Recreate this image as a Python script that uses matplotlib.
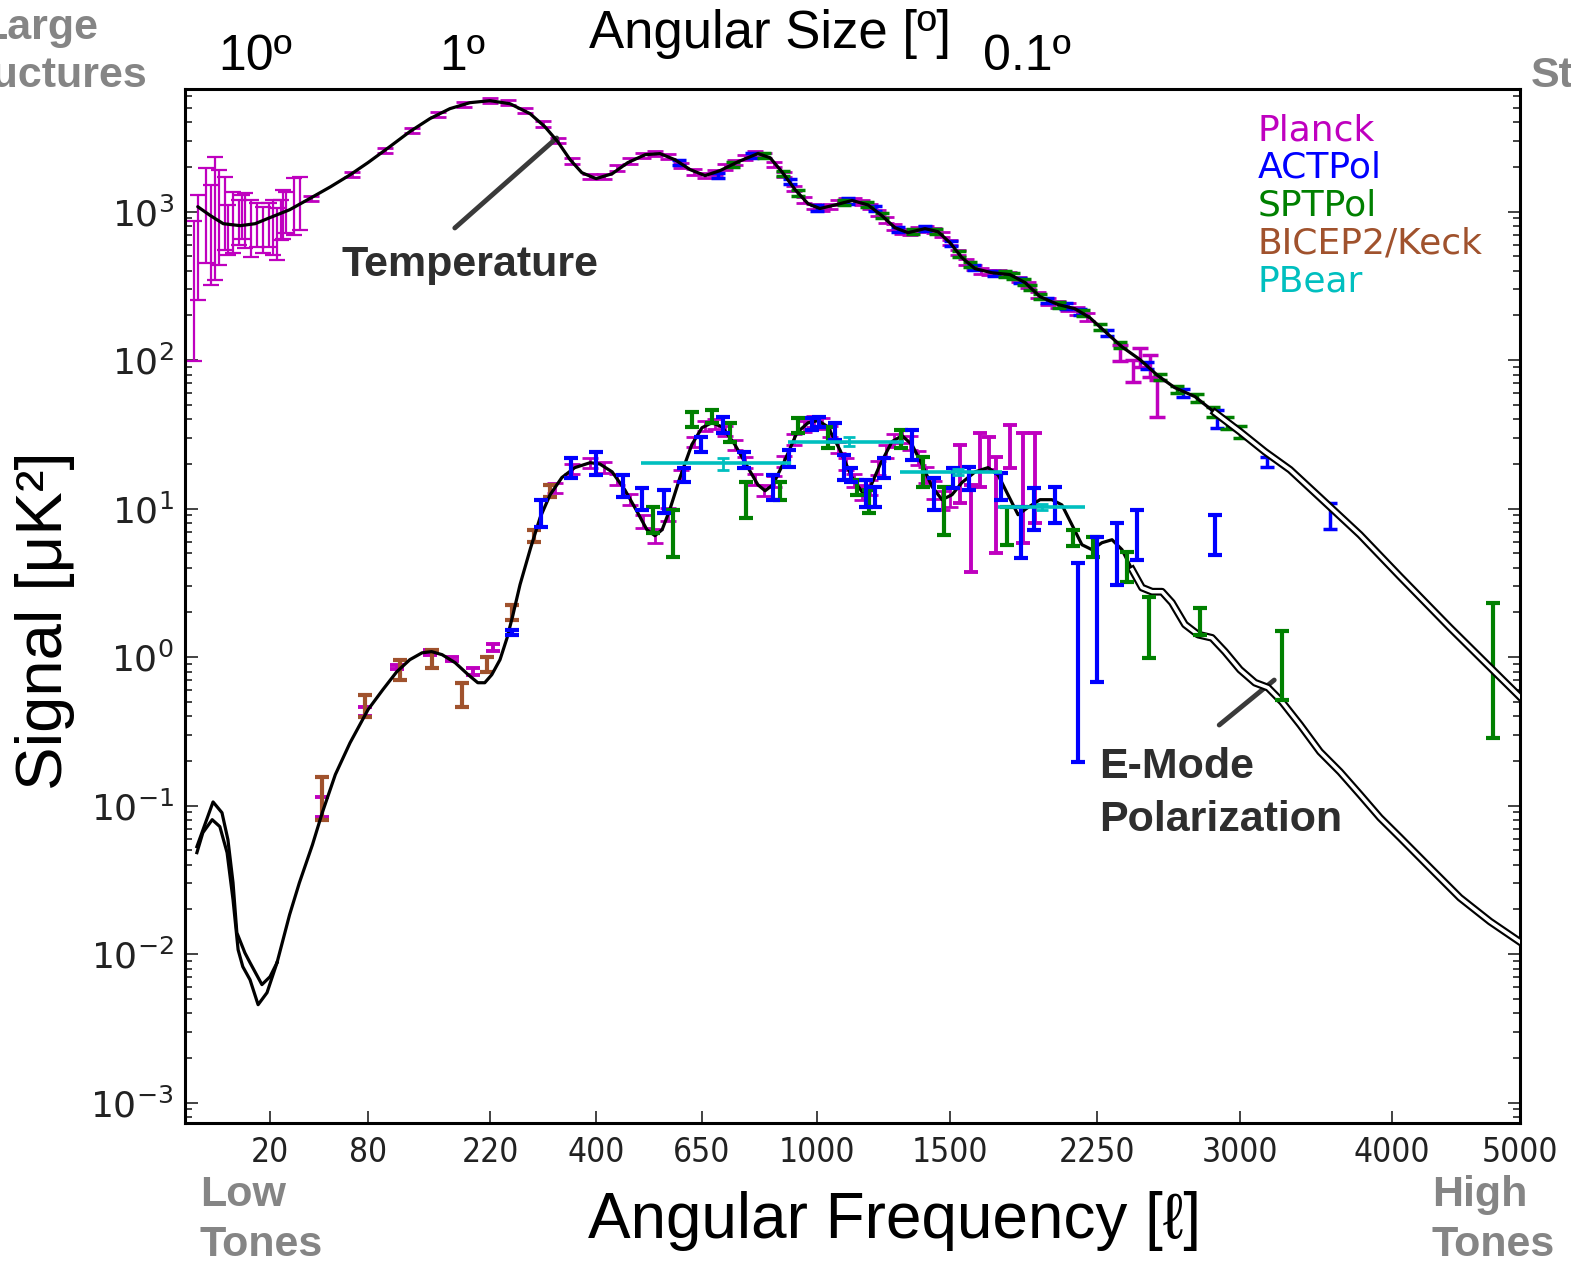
import numpy as np
import matplotlib
matplotlib.use("Agg")
import matplotlib.pyplot as plt
import matplotlib.transforms as mtransforms
from matplotlib.ticker import FixedLocator, FixedFormatter, NullLocator, LogLocator

# x axis: the multipole ticks are unevenly spaced in the original figure
ell_ticks = [20, 80, 220, 400, 650, 1000, 1500, 2250, 3000, 4000, 5000]
scale_ell = [0, 20, 80, 220, 400, 650, 1000, 1500, 2250, 3000, 4000, 5000]
scale_pos = [0, 85, 183, 305, 411, 517, 632, 765, 912, 1055, 1207, 1335]

# angular size labels along the top
ang_ell = [16.5, 188, 1890]
ang_labels = ['10º', '1º', '0.1º']

# legend
exp_names = ['Planck', 'ACTPol', 'SPTPol', 'BICEP2/Keck', 'PBear']
exp_colors = ['#bf00bf', '#0000ff', '#008000', '#a0522d', '#00bfbf']

# ---------------- theory curves ----------------
tt_ell = [3, 6, 9, 13, 16.5, 20, 32, 44, 57, 69, 80, 105, 128, 151, 174, 197,
          220, 254, 288, 313, 335, 356, 376, 400, 438, 475, 516, 551, 586, 622,
          659, 705, 760, 820, 857, 893, 933, 973, 1011, 1068, 1132, 1192, 1244,
          1293, 1342, 1406, 1455, 1500, 1561, 1628, 1714, 1806, 1883, 1959, 2051,
          2138, 2214, 2292, 2381, 2475, 2569, 2658, 2764, 2869, 3000, 3164, 3329,
          3526, 3789, 4063, 4453, 5000]
tt_val = [1080, 940, 830, 805, 830, 912, 1030, 1220, 1470, 1770, 2140, 2740, 3460,
          4230, 4940, 5420, 5590, 5330, 4570, 3740, 2960, 2240, 1830, 1670, 1800,
          2140, 2420, 2460, 2240, 1920, 1750, 1890, 2170, 2460, 2310, 1860, 1410,
          1130, 1050, 1110, 1190, 1110, 940, 780, 722, 769, 733, 618, 490, 413,
          388, 377, 333, 268, 237, 222, 193, 156, 123, 101, 78.7, 65.3, 56.8, 44.3,
          33.0, 24.2, 18.3, 11.9, 6.68, 3.49, 1.58, 0.54]

# EE: two models split at the lowest multipoles
ee_up_ell = [2.8, 6.6, 8.7, 10.1, 11.3, 12.2, 14.1, 15.3, 18.1, 20, 24.3]
ee_up_val = [0.053, 0.106, 0.0897, 0.059, 0.0303, 0.01396, 0.0102, 0.00877,
             0.00624, 0.00705, 0.00877]
ee_dn_ell = [2.8, 4.2, 6.4, 8.2, 9.9, 11.3, 12.5, 13.6, 15.3, 17.2, 19.3, 24.3]
ee_dn_val = [0.0483, 0.0658, 0.0805, 0.0723, 0.0483, 0.0233, 0.0107, 0.00824,
             0.00673, 0.00457, 0.00551, 0.00877]
ee_ell = [24.3, 32, 38, 46, 52, 60, 69, 80, 97, 113, 128, 142, 153, 165, 180, 195,
          206, 214, 223, 237, 249, 259, 271, 289, 305, 322, 342, 364, 390, 409,
          438, 468, 497, 520, 539, 556, 574, 598, 626, 650, 680, 711, 750, 790,
          820, 842, 866, 903, 939, 973, 1004, 1041, 1086, 1132, 1169, 1199, 1237,
          1282, 1320, 1357, 1395, 1432, 1470, 1510, 1561, 1628, 1694, 1745, 1796,
          1847, 1898, 1959, 2020, 2071, 2122, 2173, 2224, 2276, 2329, 2381, 2434,
          2486, 2539, 2591, 2643, 2711, 2780, 2853, 2921, 3000, 3099, 3184, 3276,
          3395, 3526, 3658, 3789, 3921, 4063, 4297, 4531, 4766, 5000]
ee_val = [0.00877, 0.01845, 0.0303, 0.0546, 0.0897, 0.162, 0.265, 0.443, 0.604,
          0.798, 0.962, 1.07, 1.09, 1.04, 0.918, 0.762, 0.673, 0.673, 0.762, 0.962,
          1.35, 1.93, 3.08, 5.45, 8.69, 12.4, 16.2, 18.9, 20.4, 20.0, 17.7, 13.4,
          9.55, 7.22, 6.58, 7.22, 9.84, 16.2, 27.0, 35.1, 37.9, 35.6, 27.0, 18.9,
          14.5, 13.2, 14.5, 21.4, 32.5, 37.9, 39.2, 35.6, 24.9, 16.2, 13.0, 13.8,
          19.8, 28.3, 31.0, 27.0, 19.8, 14.1, 11.5, 12.4, 15.0, 17.7, 18.9, 16.9,
          12.4, 9.11, 10.2, 11.5, 11.5, 10.6, 7.80, 5.72, 5.30, 5.90, 6.18, 5.30,
          3.88, 2.94, 2.76, 2.76, 2.33, 1.66, 1.42, 1.35, 1.09, 0.824, 0.673,
          0.624, 0.501, 0.351, 0.231, 0.169, 0.119, 0.083, 0.061, 0.0382, 0.0240,
          0.0166, 0.0121]

# ---------------- TT data ----------------
pl_tt_low_ell = [2, 3, 4.9, 6, 7, 8, 9.4, 10, 11.3, 12.7, 13.5, 14.1, 15.5, 16.9,
                 18.4, 19.8, 22, 24, 26.7, 28, 30, 34.8, 38.4]
pl_tt_low_hi = [860, 1300, 1980, 1520, 2340, 1920, 1720, 1110, 1360, 1200, 1300,
                1340, 1200, 1150, 1080, 1150, 1200, 1060, 1200, 1400, 1360, 1690, 1720]
pl_tt_low_lo = [98, 255, 454, 322, 348, 440, 555, 514, 530, 600, 650, 573, 498,
                580, 530, 580, 514, 475, 647, 650, 723, 700, 757]

pl_tt_ell = [45, 70, 100, 130, 160, 190, 220, 250, 280, 310, 335, 360, 390, 420,
             450, 480, 510, 540, 570, 600, 630, 660, 690, 720, 750, 780, 810, 840,
             870, 900, 930, 960, 990, 1020, 1050, 1080, 1110, 1140, 1170, 1200,
             1230, 1260, 1290, 1320, 1350, 1380, 1410, 1440, 1470, 1500, 1540,
             1580, 1620, 1660, 1700, 1750, 1800, 1850, 1900, 1950, 2000, 2050,
             2100, 2150, 2200]
pl_tt_val = [1230, 1790, 2600, 3530, 4520, 5300, 5650, 5400, 4800, 3900, 3000,
             2200, 1720, 1720, 1970, 2200, 2400, 2470, 2350, 2050, 1850, 1760, 1830,
             2000, 2140, 2330, 2450, 2380, 2080, 1780, 1440, 1200, 1080, 1060, 1090,
             1150, 1180, 1180, 1150, 1090, 980, 880, 790, 735, 725, 755, 770, 750,
             700, 620, 530, 460, 420, 400, 390, 385, 378, 350, 320, 275, 250, 237,
             228, 215, 197]
pl_tt_err = [50, 70, 100, 140, 180, 210, 220, 210, 190, 160, 120, 90, 70, 70, 80,
             90, 95, 100, 95, 80, 75, 70, 75, 80, 85, 95, 100, 95, 85, 70, 60, 50,
             45, 42, 45, 46, 48, 48, 46, 44, 40, 36, 32, 30, 30, 30, 32, 30, 28, 26,
             22, 20, 18, 17, 17, 17, 17, 16, 15, 14, 13, 13, 13, 13, 12]
pl_tt_hi_ell = [2370, 2440, 2476, 2528, 2565]
pl_tt_hi_hi = [127, 100, 121, 109, 74]
pl_tt_hi_lo = [98, 71.6, 90, 77, 41.7]

act_tt_ell = [596, 699, 802, 918, 1000, 1117, 1218, 1304, 1406, 1505, 1622, 1724,
              1857, 1995, 2092, 2163, 2302, 2512, 2701, 2879, 3178, 3592]
act_tt_val = [2150, 1750, 2400, 1600, 1060, 1180, 1050, 760, 770, 610, 420, 385,
              345, 252, 232, 212, 152, 92, 60, 40.5, 20.8, 9.1]
act_tt_err = [85, 70, 95, 65, 42, 47, 42, 30, 31, 25, 17, 15, 14, 10, 9.5, 9, 7, 5,
              3.5, 5.4, 1.6, 1.8]

spt_tt_ell = [744, 839, 897, 942, 1101, 1188, 1244, 1361, 1447, 1546, 1602, 1780,
              1821, 1877, 1908, 1959, 2056, 2179, 2266, 2371, 2580, 2670, 2774,
              2858, 2932, 3000]
spt_tt_val = [2090, 2400, 1810, 1340, 1160, 1120, 940, 735, 740, 520, 440, 380, 370,
              336, 310, 268, 236, 208, 168, 127, 77, 64, 56, 45, 38, 33]
spt_tt_err = [85, 95, 75, 55, 47, 45, 38, 30, 30, 21, 18, 16, 16, 14, 13, 11, 10, 9,
              7.5, 6, 4, 3.5, 3.5, 3.5, 3.5, 3.0]
spt_tt_far_ell = [4789]
spt_tt_far_hi = [2.33]
spt_tt_far_lo = [0.287]

# ---------------- EE data ----------------
pl_ee_ell = [52, 78, 113, 151, 176, 200, 225, 1551, 1607, 1653, 1699, 1735, 1806,
             1872, 1934]
pl_ee_hi = [0.115, 0.46, 0.89, 1.12, 1.01, 0.85, 1.22, 27.0, 14.5, 32.5, 30.5,
            22.4, 36.8, 32.5, 32.5]
pl_ee_lo = [0.0843, 0.40, 0.83, 1.04, 0.94, 0.76, 1.10, 11.0, 3.77, 14.1, 18.3,
            5.05, 18.9, 5.90, 8.05]
pl_ee_mid_ell = [330, 360, 390, 420, 450, 480, 510, 540, 570, 600, 630, 660, 690,
                 720, 750, 780, 810, 840, 870, 900, 930, 960, 990, 1020, 1050, 1080,
                 1110, 1140, 1170, 1200, 1230, 1260, 1290, 1320, 1350, 1380, 1410,
                 1440, 1470, 1500]
pl_ee_mid_val = [13.8, 18.5, 20.4, 19.0, 15.8, 11.6, 8.2, 6.6, 9.2, 16.8, 28.2,
                 36.0, 37.3, 33.5, 27.0, 20.5, 15.8, 13.3, 15.3, 20.8, 29.5, 36.0,
                 38.6, 37.5, 33.0, 26.0, 20.0, 15.5, 13.0, 13.9, 18.8, 24.5, 29.0,
                 31.0, 27.8, 22.0, 17.0, 13.5, 11.5, 12.2]
pl_ee_mid_err = [1.1, 1.4, 1.5, 1.5, 1.3, 1.0, 0.8, 0.7, 0.9, 1.4, 2.2, 2.8, 2.9,
                 2.6, 2.2, 1.7, 1.4, 1.2, 1.4, 1.8, 2.5, 3.0, 3.2, 3.1, 2.8, 2.3, 1.9,
                 1.6, 1.5, 1.6, 2.0, 2.5, 2.9, 3.1, 2.9, 2.4, 2.0, 1.8, 1.7, 1.9]

act_ee_ell = [257, 307, 358, 400, 464, 508, 560, 608, 648, 714, 778, 866, 915, 985,
              1008, 1068, 1102, 1128, 1184, 1218, 1252, 1357, 1440, 1515, 1597,
              1760, 1862, 1928, 2036, 2153, 2250, 2355, 2460, 2869]
act_ee_hi = [1.52, 11.5, 22.0, 24.2, 16.9, 13.8, 13.4, 18.9, 30.5, 41.7, 24.2, 16.9,
             24.9, 41.0, 41.7, 37.9, 23.1, 18.9, 15.7, 14.1, 22.0, 34.0, 16.2, 18.9,
             19.2, 17.5, 10.3, 13.8, 14.1, 4.33, 6.47, 8.05, 9.84, 9.11]
act_ee_lo = [1.40, 7.57, 16.2, 16.9, 12.0, 9.84, 9.40, 15.2, 24.2, 32.5, 18.9, 11.5,
             19.2, 34.0, 35.6, 29.2, 15.7, 15.2, 10.3, 10.2, 16.2, 21.4, 9.84, 13.8,
             13.4, 11.5, 4.68, 7.22, 8.05, 0.198, 0.684, 3.08, 4.54, 4.90]

spt_ee_ell = [534, 582, 626, 680, 735, 784, 887, 942, 1041, 1150, 1195, 1316, 1398,
              1477, 1791, 2127, 2230, 2407, 2523, 2790, 3276]
spt_ee_hi = [10.3, 9.84, 45.0, 46.4, 37.9, 15.2, 15.2, 41.0, 35.6, 15.7, 13.4, 34.0,
             22.4, 14.1, 10.2, 7.22, 6.4, 5.1, 2.55, 2.15, 1.49]
spt_ee_lo = [6.89, 4.75, 35.6, 37.9, 28.3, 8.69, 11.5, 32.5, 25.8, 12.4, 9.40, 25.8,
             14.1, 6.68, 5.72, 5.6, 4.75, 3.22, 0.993, 1.42, 0.518]

bk_ee_ell = [52, 78, 117, 153, 188, 217, 257, 295, 322]
bk_ee_hi = [0.157, 0.558, 0.962, 1.12, 0.673, 1.01, 2.26, 7.2, 14.5]
bk_ee_lo = [0.0805, 0.397, 0.705, 0.849, 0.465, 0.798, 1.79, 6.0, 12.0]

pb_ell = [714, 1120, 1540, 1967]
pb_val = [20.4, 28.3, 17.7, 10.3]
pb_dell = [208, 207, 227, 222]
pb_err_lo = [2.1, 1.7, 0.8, 0.5]
pb_err_hi = [1.6, 2.2, 0.8, 0.5]

SANS = ['Liberation Sans', 'DejaVu Sans']
GRAY = '#858585'
DARK = '#2e2e2e'


def fwd(x):
    return np.interp(x, scale_ell, scale_pos)


def inv(p):
    return np.interp(p, scale_pos, scale_ell)


def range_bars(ax, ell, lo, hi, color, lw, cap, z):
    lo = np.asarray(lo, float)
    hi = np.asarray(hi, float)
    ax.errorbar(ell, lo, yerr=[np.zeros_like(lo), hi - lo], fmt='none',
                ecolor=color, elinewidth=lw, capsize=cap, capthick=lw, zorder=z)


def sym_bars(ax, ell, val, err, color, lw, cap, z):
    ax.errorbar(ell, val, yerr=err, fmt='none', ecolor=color, elinewidth=lw,
                capsize=cap, capthick=lw, zorder=z)


def curve(ax, ell, val, split):
    ell = np.asarray(ell, float)
    val = np.asarray(val, float)
    a = ell <= split
    b = ell >= split
    ax.plot(ell[a], val[a], color='k', lw=2.3, zorder=5, solid_capstyle='round')
    # high-l part drawn as a hollow (double) line
    ax.plot(ell[b], val[b], color='k', lw=5.6, zorder=5)
    ax.plot(ell[b], val[b], color='white', lw=2.5, zorder=5)


fig = plt.figure(figsize=(15.71, 12.65), dpi=100)
ax = fig.add_axes([185 / 1571, 142 / 1265, 1335 / 1571, 1034 / 1265])
ax.set_xscale('function', functions=(fwd, inv))
ax.set_yscale('log')
ax.set_xlim(0, 5000)
ax.set_ylim(7.3e-4, 6.7e3)

c_pl, c_act, c_spt, c_bk, c_pb = exp_colors

# TT
range_bars(ax, pl_tt_low_ell, pl_tt_low_lo, pl_tt_low_hi, c_pl, 1.6, 6, 2)
sym_bars(ax, pl_tt_ell, pl_tt_val, pl_tt_err, c_pl, 2.0, 6, 2)
range_bars(ax, pl_tt_hi_ell, pl_tt_hi_lo, pl_tt_hi_hi, c_pl, 2.5, 6, 2)
sym_bars(ax, act_tt_ell, act_tt_val, act_tt_err, c_act, 2.5, 5, 3)
sym_bars(ax, spt_tt_ell, spt_tt_val, spt_tt_err, c_spt, 2.5, 5, 3)
range_bars(ax, spt_tt_far_ell, spt_tt_far_lo, spt_tt_far_hi, c_spt, 3.0, 5, 3)

# EE
sym_bars(ax, pl_ee_mid_ell, pl_ee_mid_val, pl_ee_mid_err, c_pl, 2.0, 6, 2)
range_bars(ax, pl_ee_ell, pl_ee_lo, pl_ee_hi, c_pl, 2.8, 5, 3)
range_bars(ax, bk_ee_ell, bk_ee_lo, bk_ee_hi, c_bk, 3.0, 5, 3)
range_bars(ax, spt_ee_ell, spt_ee_lo, spt_ee_hi, c_spt, 3.0, 5, 6)
range_bars(ax, act_ee_ell, act_ee_lo, act_ee_hi, c_act, 3.0, 5, 6)
ax.errorbar(pb_ell, pb_val, xerr=pb_dell, fmt='none', ecolor=c_pb, elinewidth=2.6,
            capsize=0, zorder=6)
ax.errorbar(pb_ell, pb_val, yerr=[pb_err_lo, pb_err_hi], fmt='none', ecolor=c_pb,
            elinewidth=2.0, capsize=4, capthick=2.0, zorder=6)

# theory
curve(ax, tt_ell, tt_val, 2869)
ax.plot(ee_up_ell, ee_up_val, color='k', lw=2.3, zorder=5)
ax.plot(ee_dn_ell, ee_dn_val, color='k', lw=2.3, zorder=5)
curve(ax, ee_ell, ee_val, 2434)

# axes styling
ax.xaxis.set_major_locator(FixedLocator(ell_ticks))
ax.xaxis.set_major_formatter(FixedFormatter([str(t) for t in ell_ticks]))
ax.xaxis.set_minor_locator(NullLocator())
ax.yaxis.set_major_locator(LogLocator(base=10, numticks=20))
ax.yaxis.set_minor_locator(LogLocator(base=10, subs=np.arange(2, 10), numticks=20))
ax.tick_params(which='both', direction='in', top=False, right=True,
               width=1.2, colors='#222222')
ax.tick_params(which='major', length=9)
ax.tick_params(which='minor', length=5)
ax.tick_params(axis='x', pad=9, labelsize=24)
ax.tick_params(axis='y', pad=8, labelsize=26)
for lab in ax.get_xticklabels():
    lab.set_fontstretch('condensed')
for s in ax.spines.values():
    s.set_linewidth(2.2)

# legend as coloured words
for i, (name, col) in enumerate(zip(exp_names, exp_colors)):
    ax.text(0.8037, 0.9603 - i * 0.0365, name, color=col, fontsize=26,
            va='center', ha='left', transform=ax.transAxes)

# curve labels
ax.text(0.1175, 0.830, 'Temperature', fontsize=31, fontweight='bold', color=DARK,
        family=SANS, va='center', ha='left', transform=ax.transAxes)
ax.annotate('', xy=(0.2784, 0.9526), xytext=(0.2021, 0.8656),
            xycoords='axes fraction', textcoords='axes fraction',
            arrowprops=dict(arrowstyle='-', color='#3a3a3a', lw=3.5,
                            shrinkA=0, shrinkB=0))
ax.text(0.685, 0.319, 'E-Mode\nPolarization', fontsize=31, fontweight='bold',
        color=DARK, family=SANS, va='center', ha='left', linespacing=1.42,
        transform=ax.transAxes)
ax.annotate('', xy=(0.8159, 0.4284), xytext=(0.7747, 0.3849),
            xycoords='axes fraction', textcoords='axes fraction',
            arrowprops=dict(arrowstyle='-', color='#3a3a3a', lw=3.5,
                            shrinkA=0, shrinkB=0))

# axis titles
fig.text(45 / 1571, 1 - 621 / 1265, 'Signal [μK²]', rotation=90, fontsize=47,
         family=SANS, ha='center', va='center')
fig.text(895 / 1571, 1 - 1221 / 1265, 'Angular Frequency [ℓ]', fontsize=46,
         family=SANS, ha='center', va='center')
fig.text(770 / 1571, 1 - 34 / 1265, 'Angular Size [º]', fontsize=38,
         family=SANS, ha='center', va='center')
top_tr = mtransforms.blended_transform_factory(ax.transData, fig.transFigure)
for l, lab in zip(ang_ell, ang_labels):
    ax.text(l, 1 - 57 / 1265, lab, fontsize=36, family=SANS, ha='center',
            va='center', transform=top_tr, clip_on=False)

# corner notes (partly outside the figure, as in the original)
fig.text(40 / 1571, 1 - 52 / 1265, 'Large\nStructures', fontsize=31,
         fontweight='bold', color=GRAY, family=SANS, ha='center', va='center',
         multialignment='center', linespacing=1.28)
fig.text(1638 / 1571, 1 - 52 / 1265, 'Small\nStructures', fontsize=31,
         fontweight='bold', color=GRAY, family=SANS, ha='center', va='center',
         multialignment='center', linespacing=1.28)
fig.text(200 / 1571, 1 - 1220 / 1265, 'Low\nTones', fontsize=31,
         fontweight='bold', color=GRAY, family=SANS, ha='left', va='center',
         linespacing=1.34)
fig.text(1432 / 1571, 1 - 1220 / 1265, 'High\nTones', fontsize=31,
         fontweight='bold', color=GRAY, family=SANS, ha='left', va='center',
         linespacing=1.34)

fig.savefig('out.png', dpi=100)
